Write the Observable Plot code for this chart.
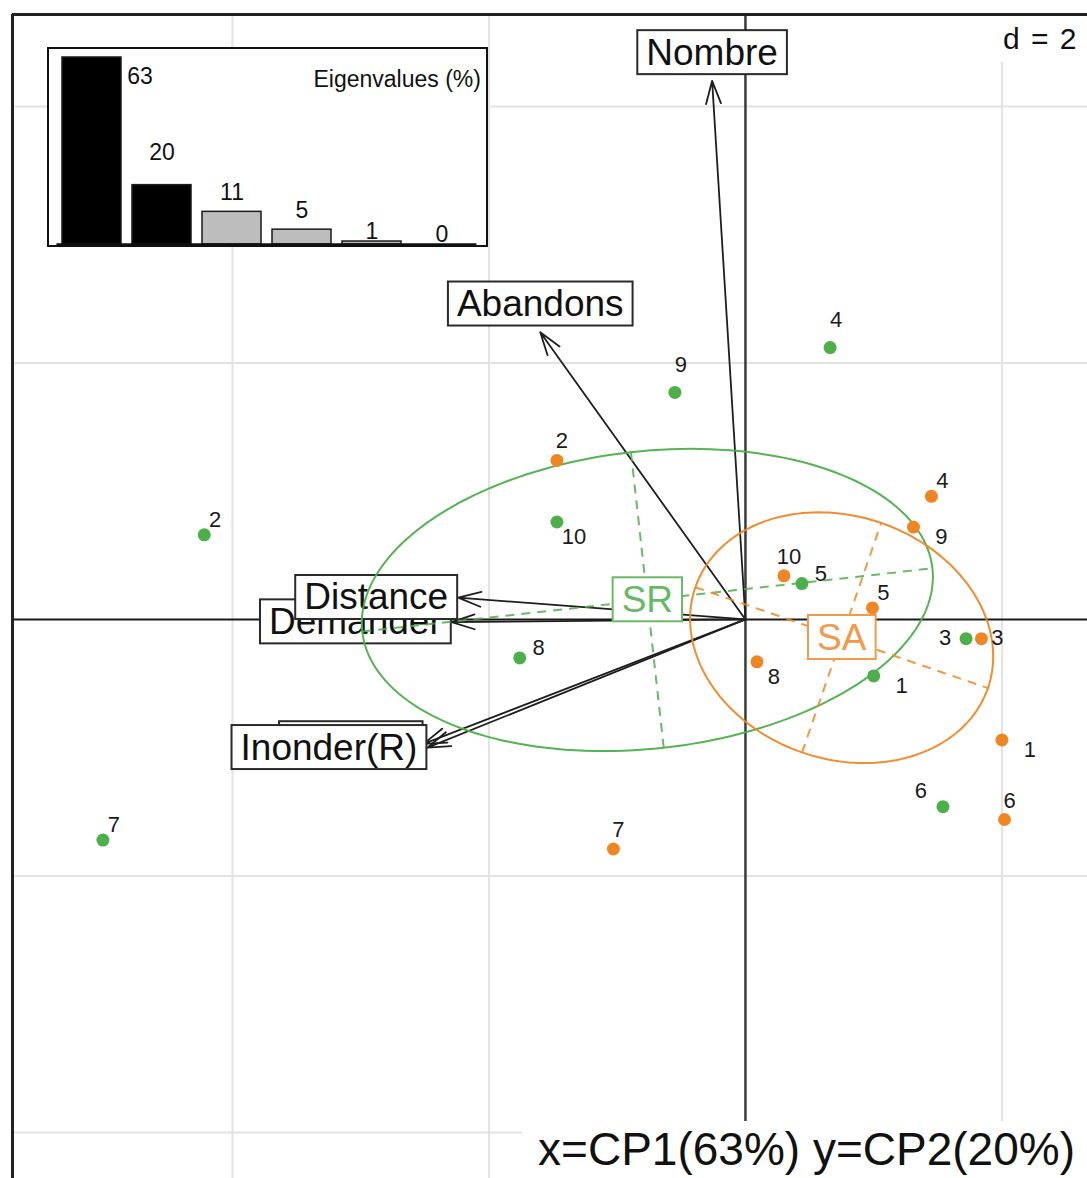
<!DOCTYPE html>
<html>
<head>
<meta charset="utf-8">
<script src="https://cdn.jsdelivr.net/npm/d3@7"></script>
<script src="https://cdn.jsdelivr.net/npm/@observablehq/plot@0.6"></script>
<style>
  html,body{margin:0;padding:0;background:#fff;overflow:hidden;}
  #wrap{position:relative;width:1087px;height:1178px;overflow:hidden;font-family:"Liberation Sans",Arial,Helvetica,sans-serif;}
  #wrap > svg{position:absolute;left:0;top:0;max-width:none;}
  #inset{position:absolute;left:47px;top:47px;border:2px solid #111;background:#fff;line-height:0;}
  #inset svg{max-width:none;}
  #dlabel{position:absolute;left:994px;top:16px;width:93px;height:46px;background:#fff;font-size:30px;line-height:46px;padding-left:9px;box-sizing:border-box;color:#111;word-spacing:3px;white-space:nowrap;}
  #caption{position:absolute;left:522px;top:1121px;width:565px;height:57px;background:#fff;font-size:46px;line-height:57px;text-align:right;padding-right:12px;box-sizing:border-box;color:#111;white-space:nowrap;}
</style>
</head>
<body>
<div id="wrap"></div>
<script>
// ---------------- data ----------------
const pointIds = ["1","2","3","4","5","6","7","8","9","10"];
const groupNames = ["SR","SA"];
const groupColors = ["#4daf4a","#ef8624"];
const groupTextColors = ["#68b965","#f09a4c"];

// SR (green) individual scores on CP1 / CP2
const srX = [1.00, -4.22, 1.72, 0.66, 0.44, 1.54, -5.01, -1.76, -0.55, -1.47];
const srY = [-0.44, 0.66, -0.15, 2.12, 0.28, -1.46, -1.72, -0.30, 1.77, 0.76];
// SA (orange) individual scores on CP1 / CP2
const saX = [2.00, -1.47, 1.84, 1.45, 0.99, 2.02, -1.03, 0.09, 1.31, 0.30];
const saY = [-0.94, 1.24, -0.15, 0.96, 0.09, -1.56, -1.79, -0.33, 0.72, 0.34];
// side on which each point's number is written
const srLabelSide = ["ese","ne","w","nn","ene","nw","ne","ene","nn","se"];
const saLabelSide = ["ese","n","e","ne","ne","n","n","se","ese","n"];

// variables (arrows)
const varNames = ["Nombre","Abandons","Demander","Distance","Inonder","Inonder(R)"];
const varX = [-0.26, -1.60, -2.29, -2.24, -2.51, -2.48];
const varY = [4.20, 2.24, -0.02, 0.17, -0.97, -1.00];

// eigenvalues (%)
const eigValues = [63, 20, 11, 5, 1, 0];
const eigLabelSide = ["right","high","above","above","low","low"];
const keptAxes = 2;
const eigTitle = "Eigenvalues (%)";

const axisCaption = "x=CP1(63%) y=CP2(20%)";
const gridStep = 2;
const gridX = [-4, -2, 2];
const gridY = [-4, -2, 2, 4];
const xLimits = [-5.715, 2.667];
const yLimits = [-4.359, 4.717];

// ---------------- derived ----------------
const FONT = "Liberation Sans, Arial, Helvetica, sans-serif";
const groupX = [srX, saX], groupY = [srY, saY], groupSide = [srLabelSide, saLabelSide];

const pts = groupNames.flatMap((g, gi) => pointIds.map((id, i) => ({
  group: g, gi, id, x: groupX[gi][i], y: groupY[gi][i], side: groupSide[gi][i]
})));

function ellipseOf(xs, ys) {
  const n = xs.length, mx = d3.mean(xs), my = d3.mean(ys);
  let sxx = 0, syy = 0, sxy = 0;
  for (let i = 0; i < n; i++) {
    const dx = xs[i] - mx, dy = ys[i] - my;
    sxx += dx * dx; syy += dy * dy; sxy += dx * dy;
  }
  sxx /= n; syy /= n; sxy /= n;
  const tr = sxx + syy, det = sxx * syy - sxy * sxy;
  const disc = Math.sqrt(Math.max(0, tr * tr / 4 - det));
  const a1 = Math.sqrt(tr / 2 + disc), a2 = Math.sqrt(Math.max(0, tr / 2 - disc));
  const ang = 0.5 * Math.atan2(2 * sxy, sxx - syy);
  const u = [Math.cos(ang), Math.sin(ang)], v = [-Math.sin(ang), Math.cos(ang)];
  const curve = d3.range(0, 181).map(k => {
    const t = k / 180 * 2 * Math.PI;
    return {x: mx + a1 * Math.cos(t) * u[0] + a2 * Math.sin(t) * v[0],
            y: my + a1 * Math.cos(t) * u[1] + a2 * Math.sin(t) * v[1]};
  });
  const axes = [
    {x1: mx - a1 * u[0], y1: my - a1 * u[1], x2: mx + a1 * u[0], y2: my + a1 * u[1]},
    {x1: mx - a2 * v[0], y1: my - a2 * v[1], x2: mx + a2 * v[0], y2: my + a2 * v[1]}
  ];
  return {mx, my, curve, axes};
}
const ells = groupNames.map((g, gi) => ellipseOf(groupX[gi], groupY[gi]));

const vars = varNames.map((name, i) => ({name, x: varX[i], y: varY[i],
  vertical: Math.abs(varY[i]) > Math.abs(varX[i])}));

const sideOffset = {nn:[6,-28], n:[5,-19], ne:[11,-15], ene:[19,-10], e:[16,-1],
                    ese:[28,10], se:[17,15], w:[-21,-1], nw:[-22,-16]};

// ---------------- main plot ----------------
const marks = [
  Plot.ruleX(gridX, {stroke: "#e2e2e2", strokeWidth: 2}),
  Plot.ruleY(gridY, {stroke: "#e2e2e2", strokeWidth: 2}),
  Plot.ruleY([0], {stroke: "#1a1a1a", strokeWidth: 2}),
  Plot.ruleX([0], {stroke: "#3a3a3a", strokeWidth: 2.5}),
  Plot.ruleX([xLimits[0]], {stroke: "#222", strokeWidth: 3}),
  Plot.ruleY([yLimits[1]], {stroke: "#222", strokeWidth: 3}),
  Plot.arrow(vars, {x1: d => 0, y1: d => 0, x2: "x", y2: "y", stroke: "#1e1e1e",
    strokeWidth: 1.8, headLength: 20, headAngle: 36}),
  Plot.text(vars.filter(d => d.vertical), {x: "x", y: "y", text: "name", fontSize: 37,
    textAnchor: "middle", lineAnchor: "middle", dy: -28, fill: "#111"}),
  Plot.text(vars.filter(d => !d.vertical), {x: "x", y: "y", text: "name", fontSize: 37,
    textAnchor: "end", lineAnchor: "middle", dx: -10, fill: "#111"})
];
groupNames.forEach((g, gi) => {
  marks.push(Plot.line(ells[gi].curve, {x: "x", y: "y", stroke: groupColors[gi],
    strokeWidth: 2, strokeOpacity: 0.95, curve: "linear-closed"}));
  marks.push(Plot.link(ells[gi].axes, {x1: "x1", y1: "y1", x2: "x2", y2: "y2",
    stroke: groupColors[gi], strokeWidth: 2, strokeDasharray: "9,7", strokeOpacity: 0.85}));
});
groupNames.forEach((g, gi) => {
  marks.push(Plot.dot(pts.filter(d => d.gi === gi), {x: "x", y: "y", r: 6.5,
    fill: groupColors[gi], stroke: "none"}));
});
Object.entries(sideOffset).forEach(([side, [dx, dy]]) => {
  marks.push(Plot.text(pts.filter(d => d.side === side), {x: "x", y: "y", text: "id",
    dx, dy, fontSize: 22, fill: "#1a1a1a", textAnchor: "middle", lineAnchor: "middle"}));
});
groupNames.forEach((g, gi) => {
  marks.push(Plot.text([{name: g, x: ells[gi].mx, y: ells[gi].my}], {x: "x", y: "y",
    text: "name", fontSize: 37, fill: groupTextColors[gi], textAnchor: "middle",
    lineAnchor: "middle"}));
});

const main = Plot.plot({
  width: 1087, height: 1178,
  marginLeft: 12, marginTop: 14, marginRight: 0, marginBottom: 0,
  x: {domain: xLimits, axis: null},
  y: {domain: yLimits, axis: null},
  style: {fontFamily: FONT, background: "transparent", overflow: "visible"},
  marks
});

// ---------------- eigenvalue inset ----------------
const eig = eigValues.map((v, i) => ({i, v, side: eigLabelSide[i]}));
const eigSide = {right: [48, 19], high: [0, -33], above: [0, -19], low: [0, -10]};
const inset = Plot.plot({
  width: 437, height: 196,
  marginLeft: 7.4, marginRight: 9.6, marginTop: 8, marginBottom: 1,
  style: {fontFamily: FONT, background: "white", overflow: "visible"},
  x: {type: "band", domain: eig.map(d => d.i), paddingInner: 0.16, paddingOuter: 0.08, axis: null},
  y: {domain: [0, eigValues[0]], axis: null},
  marks: [
    Plot.barY(eig, {x: "i", y: "v", fill: d => d.i < keptAxes ? "#000000" : "#bdbdbd",
      stroke: "#1a1a1a", strokeWidth: 1.5}),
    Plot.ruleY([0], {stroke: "#111", strokeWidth: 2.5}),
    ...Object.entries(eigSide).map(([k, [dx, dy]]) =>
      Plot.text(eig.filter(d => d.side === k), {x: "i", y: "v", text: d => String(d.v),
        dx, dy, fontSize: 23, fill: "#111", lineAnchor: "middle"})),
    Plot.text([eigTitle], {text: d => d, frameAnchor: "top-right", dx: 4, dy: 22,
      textAnchor: "end", lineAnchor: "middle", fontSize: 23, fill: "#111"})
  ]
});

// ---------------- assemble ----------------
const wrap = document.getElementById("wrap");
wrap.appendChild(main);

// draw a framed white box behind each label text (label boxes of the biplot)
function boxLabels(svg, names, strokeFor, padX, padY, sw) {
  const set = new Set(names);
  Array.from(svg.querySelectorAll("text")).forEach(t => {
    const s = t.textContent;
    if (!set.has(s)) return;
    const bb = t.getBBox();
    const r = document.createElementNS("http://www.w3.org/2000/svg", "rect");
    r.setAttribute("x", bb.x - padX);
    r.setAttribute("y", bb.y - padY);
    r.setAttribute("width", bb.width + 2 * padX);
    r.setAttribute("height", bb.height + 2 * padY);
    r.setAttribute("fill", "white");
    r.setAttribute("stroke", strokeFor(s));
    r.setAttribute("stroke-width", sw);
    const tf = t.getAttribute("transform");
    if (tf) r.setAttribute("transform", tf);
    t.parentNode.insertBefore(r, t);
  });
}
boxLabels(main, varNames, () => "#2a2a2a", 9, 1.5, 2);
boxLabels(main, groupNames, s => groupTextColors[groupNames.indexOf(s)], 9, 1.5, 2);

const insetDiv = document.createElement("div");
insetDiv.id = "inset";
insetDiv.appendChild(inset);
wrap.appendChild(insetDiv);

const dl = document.createElement("div");
dl.id = "dlabel";
dl.textContent = "d = " + gridStep;
wrap.appendChild(dl);

const cap = document.createElement("div");
cap.id = "caption";
cap.textContent = axisCaption;
wrap.appendChild(cap);
</script>
</body>
</html>
